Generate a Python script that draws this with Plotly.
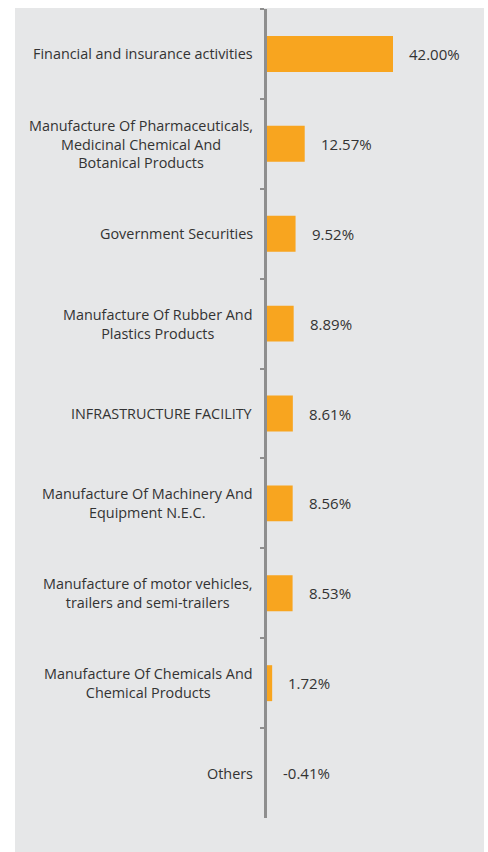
import plotly.graph_objects as go

# Sector allocation (% of net assets)
categories = [
    "Financial and insurance activities",
    "Manufacture Of Pharmaceuticals,<br>Medicinal Chemical And<br>Botanical Products",
    "Government Securities",
    "Manufacture Of Rubber And<br>Plastics Products",
    "INFRASTRUCTURE FACILITY",
    "Manufacture Of Machinery And<br>Equipment N.E.C.",
    "Manufacture of motor vehicles,<br>trailers and semi-trailers",
    "Manufacture Of Chemicals And<br>Chemical Products",
    "Others",
]
weights = [42.00, 12.57, 9.52, 8.89, 8.61, 8.56, 8.53, 1.72, -0.41]
value_labels = [f"{v:.2f}%" for v in weights]

W, H = 488, 852
ML, MR, MT, MB = 267, 8, 9, 34
PW, PH = W - ML - MR, H - MT - MB

BAR = "#F8A51F"
PANEL = "#E6E7E8"
AXIS = "#8E8E8E"
TXT = "#333333"
FONT = "Open Sans, Noto Sans, sans-serif"

fig = go.Figure(
    go.Bar(
        x=weights,
        y=categories,
        orientation="h",
        marker=dict(color=BAR, line=dict(width=0)),
        hoverinfo="skip",
    )
)

# category labels, centred line by line, right-anchored next to the axis
for cat in categories:
    fig.add_annotation(
        x=0, xref="paper", xanchor="right", xshift=-12,
        y=cat, yref="y", yanchor="middle",
        text=cat, showarrow=False, align="center",
        font=dict(family=FONT, size=14.4, color=TXT),
    )

# value labels just past the end of each bar
for cat, v, lab in zip(categories, weights, value_labels):
    fig.add_annotation(
        x=max(v, 0), xref="x", xanchor="left", xshift=14,
        y=cat, yref="y", yanchor="middle",
        text=lab, showarrow=False,
        font=dict(family=FONT, size=15, color=TXT),
    )

# grey background panel behind the whole chart
fig.add_shape(
    type="rect", xref="paper", yref="paper", layer="below",
    x0=(15 - ML) / PW, x1=(484 - ML) / PW,
    y0=-(H - MT - PH) / PH, y1=1 + (MT - 8) / PH,
    fillcolor=PANEL, line=dict(width=0),
)

fig.update_layout(
    width=W, height=H,
    margin=dict(l=ML, r=MR, t=MT, b=MB),
    paper_bgcolor="white",
    plot_bgcolor="rgba(0,0,0,0)",
    bargap=0.6,
    showlegend=False,
    font=dict(family=FONT, size=14, color=TXT),
)
fig.update_xaxes(
    range=[0, PW / 3.0], visible=False, showgrid=False, zeroline=False,
)
fig.update_yaxes(
    categoryorder="array", categoryarray=categories, autorange="reversed",
    showticklabels=False, showgrid=False, zeroline=False,
    showline=True, linecolor=AXIS, linewidth=2.5,
    ticks="outside", tickson="boundaries", ticklen=4,
    tickcolor=AXIS, tickwidth=2,
)

fig.write_html("out.html")
